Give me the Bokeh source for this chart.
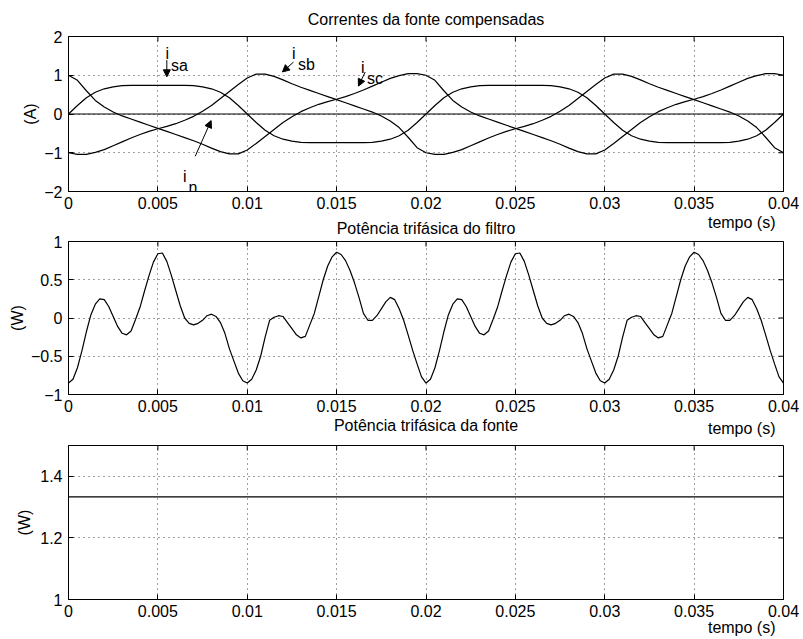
import math
from bokeh.plotting import figure
from bokeh.models import (ColumnDataSource, FixedTicker, Range1d, Arrow, NormalHead, Title)
from bokeh.layouts import column
from bokeh.embed import file_html
from bokeh.resources import INLINE
from bokeh.core.properties import value

FONT = "Liberation Sans"
FS = "16px"

# ---------------- data ----------------
t_cur = [round(i * 0.0005, 6) for i in range(81)]
t_pow = [round(i * 0.00025, 6) for i in range(161)]

i_sa = [0.00, 0.22, 0.42, 0.56, 0.65, 0.70, 0.73, 0.74, 0.74, 0.74,
        0.74, 0.74, 0.74, 0.74, 0.73, 0.70, 0.65, 0.56, 0.42, 0.22,
        0.00, -0.22, -0.42, -0.56, -0.65, -0.70, -0.73, -0.74, -0.74, -0.74,
        -0.74, -0.74, -0.74, -0.74, -0.73, -0.70, -0.65, -0.56, -0.42, -0.22,
        0.00, 0.22, 0.42, 0.56, 0.65, 0.70, 0.73, 0.74, 0.74, 0.74,
        0.74, 0.74, 0.74, 0.74, 0.73, 0.70, 0.65, 0.56, 0.42, 0.22,
        0.00, -0.22, -0.42, -0.56, -0.65, -0.70, -0.73, -0.74, -0.74, -0.74,
        -0.74, -0.74, -0.74, -0.74, -0.73, -0.70, -0.65, -0.56, -0.42, -0.22,
        0.00]

i_sb = [-1.00, -1.04, -1.04, -0.99, -0.92, -0.82, -0.72, -0.62, -0.53, -0.45,
        -0.38, -0.32, -0.25, -0.16, -0.06, 0.07, 0.22, 0.40, 0.58, 0.76,
        0.93, 1.03, 1.03, 0.97, 0.88, 0.78, 0.69, 0.61, 0.53, 0.45,
        0.37, 0.29, 0.21, 0.13, 0.05, -0.05, -0.18, -0.35, -0.60, -0.87,
        -1.00, -1.04, -1.04, -0.99, -0.92, -0.82, -0.72, -0.62, -0.53, -0.45,
        -0.38, -0.32, -0.25, -0.16, -0.06, 0.07, 0.22, 0.40, 0.58, 0.76,
        0.93, 1.03, 1.03, 0.97, 0.88, 0.78, 0.69, 0.61, 0.53, 0.45,
        0.37, 0.29, 0.21, 0.13, 0.05, -0.05, -0.18, -0.35, -0.60, -0.87,
        -1.00]

i_sc = [1.00, 0.87, 0.60, 0.35, 0.18, 0.05, -0.05, -0.13, -0.21, -0.29,
        -0.37, -0.45, -0.53, -0.61, -0.69, -0.78, -0.88, -0.97, -1.03, -1.03,
        -0.93, -0.76, -0.58, -0.40, -0.22, -0.07, 0.06, 0.16, 0.25, 0.32,
        0.38, 0.45, 0.53, 0.62, 0.72, 0.82, 0.92, 0.99, 1.04, 1.04,
        1.00, 0.87, 0.60, 0.35, 0.18, 0.05, -0.05, -0.13, -0.21, -0.29,
        -0.37, -0.45, -0.53, -0.61, -0.69, -0.78, -0.88, -0.97, -1.03, -1.03,
        -0.93, -0.76, -0.58, -0.40, -0.22, -0.07, 0.06, 0.16, 0.25, 0.32,
        0.38, 0.45, 0.53, 0.62, 0.72, 0.82, 0.92, 0.99, 1.04, 1.04,
        1.00]

t_n = [0.0, 0.04]
i_n = [0.0, 0.0]

p_filtro = [-0.85, -0.80, -0.65, -0.43, -0.18, 0.04, 0.18, 0.25, 0.24, 0.15,
            0.02, -0.11, -0.20, -0.22, -0.17, -0.02, 0.14, 0.35, 0.55, 0.73,
            0.84, 0.85, 0.74, 0.56, 0.36, 0.16, 0.00, -0.07, -0.09, -0.07,
            -0.03, 0.03, 0.05, 0.02, -0.06, -0.20, -0.40, -0.56, -0.72, -0.82,
            -0.85, -0.80, -0.68, -0.50, -0.25, -0.03, 0.01, 0.03, 0.02, -0.06,
            -0.14, -0.22, -0.26, -0.24, -0.09, 0.06, 0.28, 0.50, 0.68, 0.80,
            0.86, 0.83, 0.75, 0.62, 0.46, 0.27, 0.06, -0.03, -0.03, 0.03,
            0.12, 0.21, 0.27, 0.24, 0.12, -0.03, -0.22, -0.42, -0.60, -0.77,
            -0.85, -0.80, -0.65, -0.43, -0.18, 0.04, 0.18, 0.25, 0.24, 0.15,
            0.02, -0.11, -0.20, -0.22, -0.17, -0.02, 0.14, 0.35, 0.55, 0.73,
            0.84, 0.85, 0.74, 0.56, 0.36, 0.16, 0.00, -0.07, -0.09, -0.07,
            -0.03, 0.03, 0.05, 0.02, -0.06, -0.20, -0.40, -0.56, -0.72, -0.82,
            -0.85, -0.80, -0.68, -0.50, -0.25, -0.03, 0.01, 0.03, 0.02, -0.06,
            -0.14, -0.22, -0.26, -0.24, -0.09, 0.06, 0.28, 0.50, 0.68, 0.80,
            0.86, 0.83, 0.75, 0.62, 0.46, 0.27, 0.06, -0.03, -0.03, 0.03,
            0.12, 0.21, 0.27, 0.24, 0.12, -0.03, -0.22, -0.42, -0.60, -0.77,
            -0.85]

t_fonte = [0.0, 0.04]
p_fonte = [1.3333, 1.3333]

x_ticks = [0, 0.005, 0.01, 0.015, 0.02, 0.025, 0.03, 0.035, 0.04]
x_tick_labels = ["0", "0.005", "0.01", "0.015", "0.02", "0.025", "0.03", "0.035", "0.04"]
y1_ticks = [-2, -1, 0, 1, 2]
y1_tick_labels = ["\u22122", "\u22121", "0", "1", "2"]
y2_ticks = [-1, -0.5, 0, 0.5, 1]
y2_tick_labels = ["\u22121", "\u22120.5", "0", "0.5", "1"]
y3_ticks = [1, 1.2, 1.4]
y3_tick_labels = ["1", "1.2", "1.4"]

titles = ["Correntes da fonte compensadas",
          "Pot\u00eancia trif\u00e1sica do filtro",
          "Pot\u00eancia trif\u00e1sica da fonte"]
x_label = "tempo (s)"

ann_text = ["i", "sa", "i", "sb", "i", "sc", "i", "n"]
ann_x = [0.00542, 0.00573, 0.01250, 0.01284, 0.01636, 0.01670, 0.00641, 0.00671]
ann_y = [1.56, 1.26, 1.56, 1.28, 1.21, 0.915, -1.61, -1.905]
arr_x0 = [0.0055, 0.01259, 0.01660, 0.00709]
arr_y0 = [1.39, 1.34, 1.085, -1.09]
arr_x1 = [0.0055, 0.01197, 0.01622, 0.00798]
arr_y1 = [0.96, 1.085, 0.72, -0.17]

# ---------------- figures ----------------
W = 799
LW = 1.2


def make_fig(h, yr, yt, ytl, ylab, title, bt, bb, title_standoff, tempo_standoff, ylab_standoff):
    p = figure(width=W, height=h, x_range=Range1d(0, 0.04), y_range=Range1d(*yr),
               output_backend="svg", toolbar_location=None,
               min_border_left=68, min_border_right=16,
               min_border_top=bt, min_border_bottom=bb)
    p.title.text = title
    p.border_fill_alpha = 0
    p.background_fill_color = "white"
    p.outline_line_color = "black"
    p.outline_line_alpha = 1
    p.title.text_font = FONT
    p.title.text_font_size = FS
    p.title.text_font_style = "normal"
    p.title.align = "center"
    p.title.standoff = title_standoff
    p.title.text_color = "black"

    p.xaxis.ticker = FixedTicker(ticks=x_ticks)
    p.xaxis.major_label_overrides = dict(zip(x_ticks, x_tick_labels))
    p.yaxis.ticker = FixedTicker(ticks=yt)
    p.yaxis.major_label_overrides = dict(zip(yt, ytl))
    for ax in (p.xaxis[0], p.yaxis[0]):
        ax.major_tick_in = 5
        ax.major_tick_out = 0
        ax.minor_tick_line_color = None
        ax.axis_line_color = "black"
        ax.major_tick_line_color = "black"
        ax.major_label_text_font = FONT
        ax.major_label_text_font_size = FS
        ax.major_label_text_color = "black"
    p.xaxis.major_label_standoff = 5
    p.yaxis.major_label_standoff = 6
    p.yaxis.axis_label = ylab
    p.yaxis.axis_label_text_font = FONT
    p.yaxis.axis_label_text_font_size = FS
    p.yaxis.axis_label_text_font_style = "normal"
    p.yaxis.axis_label_text_color = "black"
    p.yaxis.axis_label_standoff = ylab_standoff

    # inward ticks on the top and right edges of the box
    p.ray(x=x_ticks, y=[yr[1]] * len(x_ticks), length=5, length_units="screen",
          angle=-math.pi / 2, line_color="black", line_width=1)
    p.ray(x=[0.04] * len(yt), y=yt, length=5, length_units="screen",
          angle=math.pi, line_color="black", line_width=1)

    p.grid.grid_line_color = "black"
    p.grid.grid_line_alpha = 0.75
    p.grid.grid_line_dash = "1 4"
    p.grid.grid_line_width = 1

    p.add_layout(Title(text=x_label, align="right", offset=8, standoff=tempo_standoff,
                       text_font=FONT, text_font_size=FS, text_font_style="normal",
                       text_color="black"), "below")
    return p


# --- plot 1: currents ---
p1 = make_fig(237, (-2, 2), y1_ticks, y1_tick_labels, "(A)", titles[0], 38, 44, 18, 0, 2)
src1 = ColumnDataSource(dict(t=t_cur, isa=i_sa, isb=i_sb, isc=i_sc))
for col in ("isa", "isb", "isc"):
    p1.line(x="t", y=col, source=src1, line_color="black", line_width=LW)
p1.line(x=t_n, y=i_n, line_color="black", line_width=LW)
p1.text(x=ann_x, y=ann_y, text=ann_text, text_font=value(FONT), text_font_size=FS,
        text_align="left", text_baseline="alphabetic", text_color="black")
for xs, ys, xe, ye in zip(arr_x0, arr_y0, arr_x1, arr_y1):
    p1.add_layout(Arrow(end=NormalHead(size=7, fill_color="black", line_color="black", line_width=1),
                        x_start=xs, y_start=ys, x_end=xe, y_end=ye,
                        line_color="black", line_width=1))

# --- plot 2: filter power ---
p2 = make_fig(234, (-1, 1), y2_ticks, y2_tick_labels, "(W)", titles[1], 31, 50, 10, 6, 2)
src2 = ColumnDataSource(dict(t=t_pow, p=p_filtro))
p2.line(x="t", y="p", source=src2, line_color="black", line_width=LW)

# --- plot 3: source power ---
p3 = make_fig(235, (1, 1.5), y3_ticks, y3_tick_labels, "(W)", titles[2], 43, 38, 23, -6, 4)
src3 = ColumnDataSource(dict(t=t_fonte, p=p_fonte))
p3.line(x="t", y="p", source=src3, line_color="black", line_width=LW)

p1.margin = (-2, 0, 0, 0)
p2.margin = (-25, 0, 0, 0)
p3.margin = (-42, 0, -8, 0)

layout = column(p1, p2, p3, spacing=0)

open("out.html", "w").write(file_html(layout, INLINE))
